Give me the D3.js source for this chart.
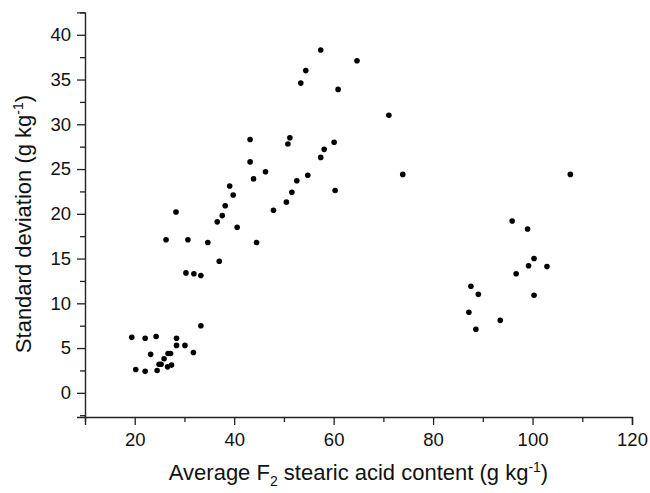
<!DOCTYPE html>
<html>
<head>
<meta charset="utf-8">
<script src="https://cdn.jsdelivr.net/npm/d3@7"></script>
<style>
  html, body { margin: 0; padding: 0; background: #fff; }
  svg { display: block; font-family: "Liberation Sans", Arial, sans-serif; }
</style>
</head>
<body>
<svg id="chart" width="650" height="493"></svg>
<script>
// Average F2 stearic acid content (g/kg)
const stearic = [
  19.4, 22.1, 24.3, 33.3, 28.4, 28.4, 30.1, 31.8, 23.2, 20.2, 22.1, 24.5,
  26.7, 27.2, 25.9, 24.9, 25.3, 26.6, 27.4,
  43.2, 46.3, 43.9, 39.1, 39.8, 38.2, 28.3, 47.9, 37.6, 36.6, 40.6, 26.3,
  30.7, 34.7, 44.5, 37.0, 30.3, 31.9, 33.3, 43.2,
  57.4, 64.7, 54.4, 53.4, 60.9, 71.1, 51.2, 50.8, 60.1, 58.1, 57.4, 73.9,
  52.6, 54.8, 51.6, 60.3, 50.5,
  107.6, 95.9, 99.0, 100.3, 99.2, 102.9, 96.7, 87.6, 89.1, 100.3, 87.2, 93.5, 88.6
];
// Standard deviation (g/kg)
const stdev = [
  6.2, 6.1, 6.3, 7.5, 6.1, 5.3, 5.3, 4.5, 4.3, 2.6, 2.4, 2.5,
  4.4, 4.4, 3.8, 3.2, 3.2, 2.9, 3.1,
  25.8, 24.7, 23.9, 23.1, 22.1, 20.9, 20.2, 20.4, 19.8, 19.1, 18.5, 17.1,
  17.1, 16.8, 16.8, 14.7, 13.4, 13.3, 13.1, 28.3,
  38.3, 37.1, 36.0, 34.6, 33.9, 31.0, 28.5, 27.8, 28.0, 27.2, 26.3, 24.4,
  23.7, 24.3, 22.4, 22.6, 21.3,
  24.4, 19.2, 18.3, 15.0, 14.2, 14.1, 13.3, 11.9, 11.0, 10.9, 9.0, 8.1, 7.1
];
const xMajor = [20, 40, 60, 80, 100, 120];
const xMinor = [10, 30, 50, 70, 90, 110];
const yMajor = [0, 5, 10, 15, 20, 25, 30, 35, 40];
const yMinor = [-2.5, 2.5, 7.5, 12.5, 17.5, 22.5, 27.5, 32.5, 37.5, 42.5];

const points = stearic.map((v, i) => ({ x: v, y: stdev[i] }));

const svg = d3.select("#chart");
const x = d3.scaleLinear().domain([10, 120]).range([85, 632]);
const y = d3.scaleLinear().domain([-2.7, 42.5]).range([417, 12.4]);
const axisColor = "#222";

// X axis
const gx = svg.append("g").attr("transform", `translate(0,${y(-2.7)})`);
gx.call(d3.axisBottom(x).tickValues(xMajor).tickSize(8).tickPadding(8).tickFormat(d3.format("d")));
gx.append("g").call(d3.axisBottom(x).tickValues(xMinor).tickSize(5).tickFormat(""))
  .select(".domain").remove();

// Y axis
const gy = svg.append("g").attr("transform", `translate(${x(10)},0)`);
gy.call(d3.axisLeft(y).tickValues(yMajor).tickSize(8).tickPadding(6).tickFormat(d3.format("d")));
gy.append("g").call(d3.axisLeft(y).tickValues(yMinor).tickSize(5).tickFormat(""))
  .select(".domain").remove();

svg.selectAll(".domain").attr("stroke", axisColor).attr("stroke-width", 1.4);
svg.selectAll(".tick line").attr("stroke", axisColor).attr("stroke-width", 1.3);
svg.selectAll(".tick text").attr("fill", "#111").style("font-size", "18.5px")
  .style("font-family", "'Liberation Sans', Arial, sans-serif");

// Points
svg.append("g").selectAll("circle").data(points).join("circle")
  .attr("cx", d => x(d.x)).attr("cy", d => y(d.y)).attr("r", 2.8).attr("fill", "#000");

// X title
const xt = svg.append("text").attr("x", (x(10) + x(120)) / 2).attr("y", 480)
  .attr("text-anchor", "middle").attr("fill", "#111").style("font-size", "22px");
xt.append("tspan").text("Average F");
xt.append("tspan").attr("dy", 6).style("font-size", "14px").text("2");
xt.append("tspan").attr("dy", -6).text(" stearic acid content (g kg");
xt.append("tspan").attr("dy", -8).style("font-size", "14px").text("-1");
xt.append("tspan").attr("dy", 8).text(")");

// Y title
const yt = svg.append("text").attr("transform", `translate(31,224) rotate(-90)`)
  .attr("text-anchor", "middle").attr("fill", "#111").style("font-size", "22px");
yt.append("tspan").text("Standard deviation (g kg");
yt.append("tspan").attr("dy", -8).style("font-size", "14px").text("-1");
yt.append("tspan").attr("dy", 8).text(")");
</script>
</body>
</html>
